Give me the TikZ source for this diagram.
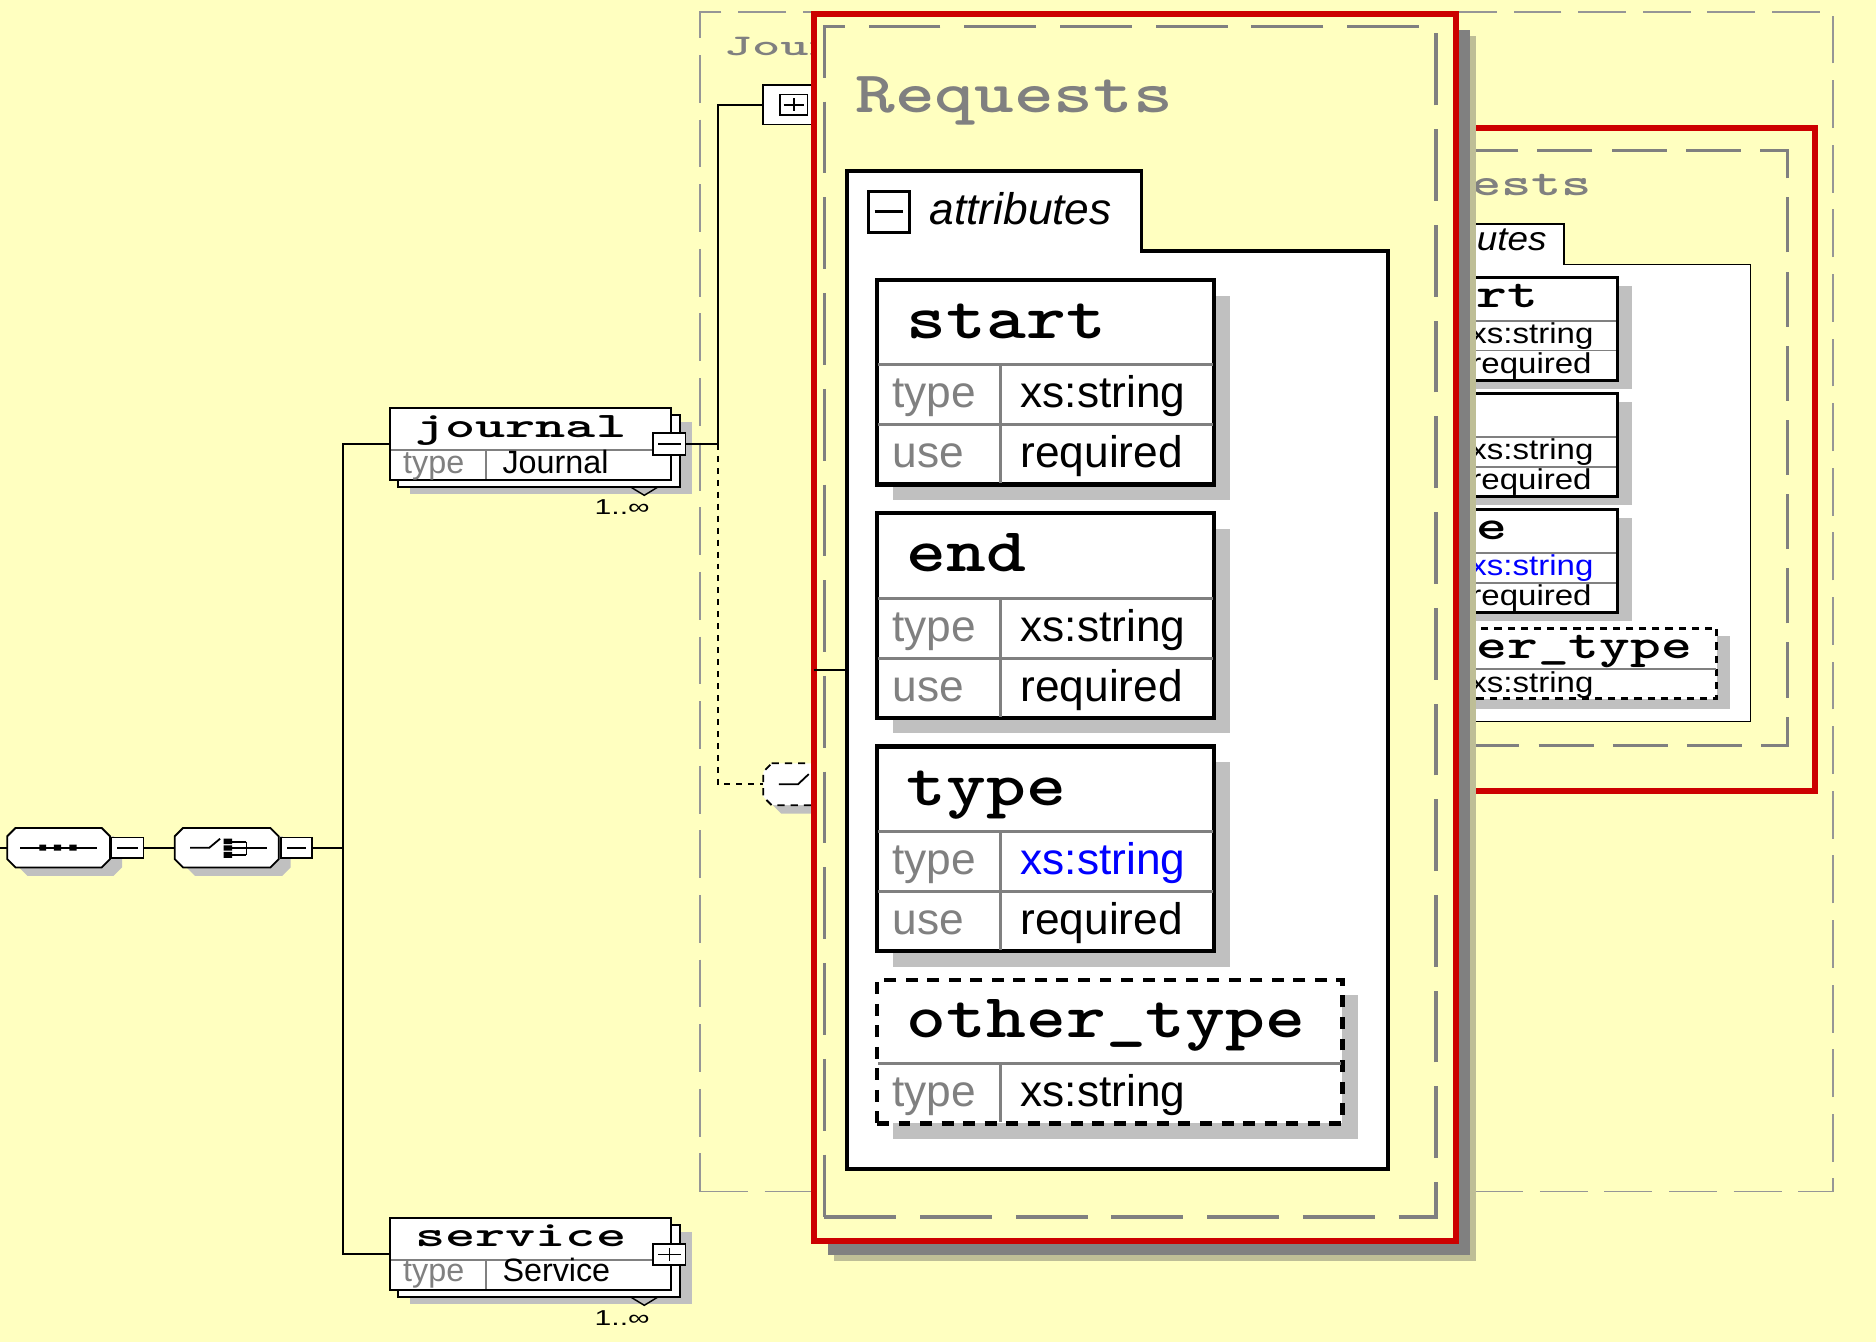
\documentclass[tikz,border=0pt]{standalone}
\usepackage{fontspec}
\newfontfamily\sansf{Liberation Sans}
\usetikzlibrary{fit}
\definecolor{bg}{RGB}{255,255,192}
\definecolor{shd}{RGB}{192,192,192}
\definecolor{dgray}{RGB}{128,128,128}
\definecolor{lgray}{RGB}{150,150,150}
\definecolor{xred}{RGB}{204,0,0}
\definecolor{xblue}{RGB}{0,0,255}
\definecolor{stripe}{RGB}{190,190,150}
\newcommand\octa[5]{(#1+#5,#2) -- (#3-#5,#2) -- (#3,#2+#5) -- (#3,#4-#5) -- (#3-#5,#4) -- (#1+#5,#4) -- (#1,#4-#5) -- (#1,#2+#5) -- cycle}
\tikzset{
 txt/.style={inner sep=0pt, outer sep=0pt, anchor=base west},
 nmB/.style={txt, font=\ttfamily\bfseries\fontsize{26}{27}\selectfont},
 nmS/.style={txt, font=\ttfamily\bfseries\fontsize{17.5}{18}\selectfont},
 nmJ/.style={txt, font=\ttfamily\bfseries\fontsize{15}{16}\selectfont},
 ttlB/.style={txt, text=dgray, font=\ttfamily\bfseries\fontsize{24.5}{25}\selectfont},
 ttlS/.style={txt, text=dgray, font=\ttfamily\bfseries\fontsize{16}{17}\selectfont},
 ttlJ/.style={txt, text=dgray, font=\ttfamily\bfseries\fontsize{12.5}{13}\selectfont},
 sB/.style={txt, font=\sansf\fontsize{18.5}{19}\selectfont},
 sBl/.style={sB, text=dgray},
 sS/.style={txt, font=\sansf\fontsize{12}{13}\selectfont},
 sJ/.style={txt, font=\sansf\fontsize{13.5}{14}\selectfont},
 sJl/.style={sJ, text=dgray},
 itB/.style={txt, font=\sansf\itshape\fontsize{18.5}{19}\selectfont},
 itS/.style={txt, font=\sansf\itshape\fontsize{14}{15}\selectfont},
 mult/.style={txt, font=\sansf\fontsize{9}{10}\selectfont},
 wire/.style={draw=black, line width=0.8pt},
 dotwire/.style={wire, dash pattern=on 2.5pt off 2.5pt},
 fr/.style={inner sep=0pt, outer sep=0pt},
 divider/.style={draw=dgray, line width=1.25pt},
}
\newcommand\bigatt[5]{%
 \fill[shd] (746,#2+13) rectangle (1028,#2+184);
 \node[fr, draw=black, fill=white, line width=1.75pt, fit={(733,#2) (1015,#2+171)}] (#1) {};
 \draw[divider] (734,#2+71) -- (1014,#2+71) (734,#2+121) -- (1014,#2+121) (836,#2+71) -- (836,#2+170);
 \node[nmB] (#1-n) at (758,#2+49) {\scalebox{1.22}[1]{#3}};
 \node[sBl] (#1-tl) at (746,#2+107) {type};
 \node[sB, text=#5] (#1-tv) at (853,#2+107) {#4};
 \node[sBl] (#1-ul) at (746,#2+157) {use};
 \node[sB] (#1-uv) at (853,#2+157) {required};
}
\newcommand\smallatt[5]{%
 \fill[shd] (1147,#2+7) rectangle (1364,#2+93);
 \node[fr, draw=black, fill=white, line width=1.25pt, fit={(1135,#2) (1352,#2+86)}] (#1) {};
 \draw[draw=dgray, line width=0.75pt] (1135,#2+36) -- (1351,#2+36) (1135,#2+61) -- (1351,#2+61) (1222,#2+36) -- (1222,#2+86);
 \node[nmS] (#1-n) at (1157,#2+25) {\scalebox{1.4}[1]{#3}};
 \node[sS, text=#5] (#1-tv) at (1229,#2+55) {\scalebox{1.15}[1]{#4}};
 \node[sS] (#1-uv) at (1229,#2+80) {\scalebox{1.15}[1]{required}};
}
\begin{document}
\begin{tikzpicture}[x=0.5pt,y=-0.5pt]
\useasboundingbox (0,0) rectangle (1568,1122);
\fill[bg] (0,0) rectangle (1568,1122);

% ---------- Journal type panel (behind)
\node[fr, draw=lgray, line width=0.65pt, dash pattern=on 20pt off 7pt, fit={(585,10) (1532,996)}] (jtype) {};
\node[ttlJ] (jtitle) at (605,46) {\scalebox{1.8}[1]{Journal}};
\node[fr, draw=black, fill=white, line width=0.75pt, fit={(638,71) (720,104)}] (jattr) {};
\node[fr, draw=black, line width=0.75pt, fit={(652,79) (675,96)}] (jattrpm) {};
\draw[line width=0.75pt] (655,87.5) -- (672,87.5) (663.5,82) -- (663.5,93);
\fill[shd] \octa{646}{645}{733}{680}{7};
\node[fr, fit={(638,638) (725,673)}] (chc) {};
\draw[fill=white, line width=0.75pt, dash pattern=on 3pt off 2.5pt] \octa{638}{638}{725}{673}{7};
\draw[line width=0.75pt] (651,655.5) -- (667,655.5) -- (676,647);

% ---------- small Requests copy
\node[fr, draw=xred, fill=bg, line width=2.5pt, fit={(1090,107) (1517,661)}] (req2) {};
\node[fr, draw=dgray, line width=1.25pt, dash pattern=on 23pt off 8pt, fit={(1100,126) (1494,623)}] (req2in) {};
\node[ttlS] (rtitle2) at (1129,163) {\scalebox{1.5}[1]{Requests}};
\node[fr, fit={(1115,187) (1463,603)}] (attr2) {};
\filldraw[fill=white, draw=black, line width=0.75pt] (1115,187) -- (1307,187) -- (1307,221) -- (1463,221) -- (1463,603) -- (1115,603) -- cycle;
\node[itS] (attrtxt2) at (1166,209) {\scalebox{1.1}[1]{attributes}};
\smallatt{bstart}{232}{start}{xs:string}{black}
\smallatt{bend}{329}{end}{xs:string}{black}
\smallatt{btype}{426}{type}{xs:string}{xblue}
\fill[shd] (1147,532) rectangle (1446,593);
\node[fr, draw=black, fill=white, line width=1.25pt, dash pattern=on 3pt off 2.5pt, fit={(1135,525) (1435,584)}] (bother) {};
\draw[draw=dgray, line width=0.75pt] (1136,559) -- (1434,559) (1222,559) -- (1222,584);
\node[nmS] (bother-n) at (1157,550) {\scalebox{1.4}[1]{other\_type}};
\node[sS] (bother-tv) at (1229,579) {\scalebox{1.15}[1]{xs:string}};

% ---------- big Requests callout
\fill[stripe] (697,30) rectangle (1234,1054);
\fill[dgray] (692,25) rectangle (1229,1049);
\node[fr, draw=xred, fill=bg, line width=2.5pt, fit={(680,12) (1217,1037)}] (req) {};
\node[fr, draw=dgray, line width=1.5pt, dash pattern=on 30pt off 10pt, fit={(689,22) (1200,1017)}] (reqin) {};
\node[ttlB] (rtitle) at (715,94) {\scalebox{1.29}[1]{Requests}};
\node[fr, fit={(708,143) (1160,977)}] (attr) {};
\filldraw[fill=white, draw=black, line width=1.5pt] (708,143) -- (954,143) -- (954,210) -- (1160,210) -- (1160,977) -- (708,977) -- cycle;
\node[fr, draw=black, line width=1.25pt, fit={(726,160) (760,194)}] (attrpm) {};
\draw[line width=1.25pt] (731,177) -- (755,177);
\node[itB] (attrtxt) at (777,188) {attributes};
\bigatt{astart}{234}{start}{xs:string}{black}
\bigatt{aend}{429}{end}{xs:string}{black}
\bigatt{atype}{624}{type}{xs:string}{xblue}
\fill[shd] (746,832) rectangle (1135,952);
\node[fr, draw=black, fill=white, line width=1.75pt, dash pattern=on 5pt off 4pt, fit={(733,819) (1122,939)}] (aother) {};
\draw[divider] (734,889) -- (1121,889) (836,889) -- (836,938);
\node[nmB] (aother-n) at (758,867) {\scalebox{1.22}[1]{other\_type}};
\node[sBl] (aother-tl) at (746,925) {type};
\node[sB] (aother-tv) at (853,925) {xs:string};
\draw[wire, line width=1.25pt] (attr.west -| req.west) -- (attr.west);

% ---------- left part: sequence / choice
\coordinate (lstub) at (0,708.5);
\fill[shd] \octa{16}{699}{102}{732}{7};
\node[fr, fit={(6,692) (92,725)}] (oct1) {};
\draw[fill=white, line width=0.75pt] \octa{6}{692}{92}{725}{7};
\draw[line width=0.75pt] (17,708.5) -- (81,708.5);
\fill (33,706) rectangle (38.5,711) (45,706) rectangle (51,711) (58,706) rectangle (64,711);
\node[fr, draw=black, fill=white, line width=0.75pt, fit={(93,700) (120,717)}] (m1) {};
\draw[line width=0.75pt] (98,708.5) -- (115,708.5);

\fill[shd] \octa{156}{699}{243}{732}{7};
\node[fr, fit={(146,692) (233,725)}] (oct2) {};
\draw[fill=white, line width=0.75pt] \octa{146}{692}{233}{725}{7};
\draw[line width=0.75pt] (159,708.5) -- (175,708.5) -- (184,701);
\fill (187,701) rectangle (194,705.5) (187,706.5) rectangle (194,711) (187,712) rectangle (194,717);
\draw[line width=0.75pt] (194,703.5) -- (206,703.5) (194,709) -- (206,709) (194,714.5) -- (206,714.5) (206,703.5) -- (206,714.5) (206,709) -- (223,709);
\node[fr, draw=black, fill=white, line width=0.75pt, fit={(235,700) (261,717)}] (m2) {};
\draw[line width=0.75pt] (240,708.5) -- (256,708.5);
\coordinate (spine) at (287,708.5);

% ---------- journal element
\fill[shd] (343,353) rectangle (578,413);
\node[fr, draw=black, fill=white, line width=0.9pt, fit={(333,347) (568,407)}] (jback) {};
\node[fr, draw=black, fill=white, line width=0.9pt, fit={(326,341) (561,401)}] (jmain) {};
\draw[draw=dgray, line width=0.75pt] (327,376) -- (560,376) (406,376) -- (406,400);
\node[fr, draw=black, fill=white, line width=0.75pt, fit={(546,362) (573,380)}] (jminus) {};
\draw[line width=0.75pt] (550,371) -- (569,371);
\node[nmJ] (jname) at (347,366) {\scalebox{1.6}[1]{journal}};
\node[sJl] (jtl) at (337,395.5) {type};
\node[sJ] (jtv) at (420,395.5) {Journal};
\draw[line width=0.6pt] (527,407) -- (538.5,414) -- (550,407);
\node[mult] (jmult) at (497,430) {\scalebox{1.4}[1]{1..∞}};
\coordinate (jbus) at (600,371);

% ---------- service element
\fill[shd] (343,1030) rectangle (578,1090);
\node[fr, draw=black, fill=white, line width=0.9pt, fit={(333,1024) (568,1084)}] (sback) {};
\node[fr, draw=black, fill=white, line width=0.9pt, fit={(326,1018) (561,1078)}] (smain) {};
\draw[draw=dgray, line width=0.75pt] (327,1053) -- (560,1053) (406,1053) -- (406,1077);
\node[fr, draw=black, fill=white, line width=0.75pt, fit={(546,1040) (573,1057)}] (splus) {};
\draw[line width=0.75pt] (550,1048.5) -- (569,1048.5) (559.5,1043) -- (559.5,1054);
\node[nmJ] (sname) at (347,1042) {\scalebox{1.6}[1]{service}};
\node[sJl] (stl) at (337,1071.5) {type};
\node[sJ] (stv) at (420,1071.5) {Service};
\draw[line width=0.6pt] (527,1084) -- (538.5,1091) -- (550,1084);
\node[mult] (smult) at (497,1108) {\scalebox{1.4}[1]{1..∞}};

% ---------- connectors
\draw[wire] (lstub) -- (oct1.west);
\draw[wire] (m1.east) -- (oct2.west);
\draw[wire] (m2.east) -- (spine);
\draw[wire] (spine) |- (jmain.west);
\draw[wire] (spine) |- (smain.west);
\draw[wire] (jminus.east) -- (jbus) |- (jattr.west);
\draw[dotwire] (jbus) |- (chc.west);
\end{tikzpicture}
\end{document}
